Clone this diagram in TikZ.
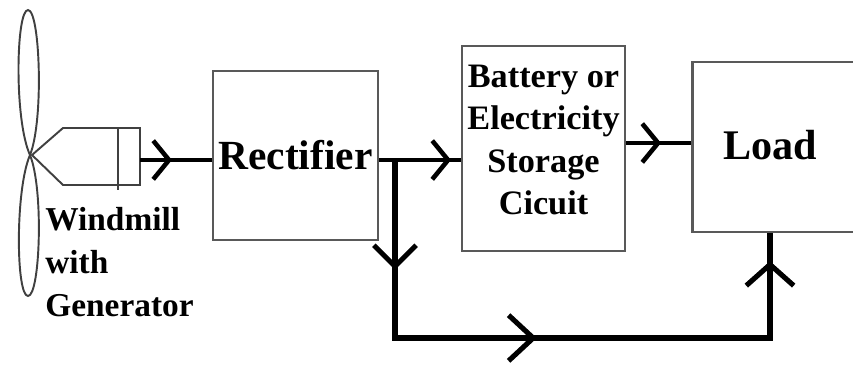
\documentclass[tikz,border=0pt]{standalone}
\usepackage{fontspec}
\setmainfont{Liberation Serif}
\usetikzlibrary{arrows.meta, decorations.markings}

\begin{document}
\begin{tikzpicture}[x=0.02cm, y=-0.02cm, >={Straight Barb[length=9pt, width=22pt]},
    box/.style={draw=black!65, line width=1.2pt, inner sep=0pt},
    wire/.style={line width=2.6pt, line join=miter},
    midarrow/.style={postaction={decorate}, decoration={markings, mark=at position #1 with {\arrow{>}}}}]
                \useasboundingbox (0,0) rectangle (853,366);
                \clip (0,0) rectangle (853,366);
                % Aspas
                \draw[black!75, line width=1.1pt] (30,155) .. controls (14,120) and (16,10) .. (28,10) .. controls (40,10) and (44,120) .. (30,155);
                \draw[black!75, line width=1.1pt] (30,155) .. controls (15,190) and (16,296) .. (28,296) .. controls (40,296) and (44,190) .. (30,155);
                % Generador
                \draw[black!75, line width=1.1pt] (32,155) -- (63,128) -- (140,128) -- (140,185) -- (63,185) -- cycle;
                \draw[black!75, line width=1.1pt] (118,128) -- (118,190);
                \coordinate (gen) at (140,160);
                \node[anchor=north west, inner sep=0pt, align=left, font=\fontsize{19}{24.4}\selectfont\bfseries] (windtxt) at (45,207) {Windmill\\with\\Generator};
                % Bloques
                \node[box, minimum width=3.3cm, minimum height=3.38cm, font=\fontsize{23.6}{28}\selectfont\bfseries] (rect) at (295.5,155.5) {Rectifier};
                \node[box, minimum width=3.26cm, minimum height=4.1cm] (battery) at (543.5,148.5) {};
                \node[align=center, inner sep=0pt, font=\fontsize{19.5}{24}\selectfont\bfseries] (battxt) at (543.5,140) {Battery or\\Electricity\\Storage\\Cicuit};
                \node[box, minimum width=4.3cm, minimum height=3.4cm] (load) at (800,147) {};
                \node[inner sep=0pt, font=\fontsize{24}{28}\selectfont\bfseries] (loadtxt) at (770,145) {Load};
                % Conexiones
                \coordinate (split) at (395,160);
                \draw[wire, midarrow=0.64cm] (gen) -- (gen -| rect.west);
                \draw[wire, midarrow=1.44cm] (rect.east |- split) -- (split) -- (split -| battery.west);
                \draw[wire, midarrow=0.7cm] (battery.east |- 0,143) -- (load.west |- 0,143);
                % Camino directo a la carga
                \draw[wire, line width=2.9pt, postaction={decorate}, decoration={markings,
                    mark=at position 2.2cm with {\arrow{Straight Barb[length=12pt, width=24pt]}},
                    mark=at position 6.4cm with {\arrow{Straight Barb[length=14pt, width=26pt]}},
                    mark=at position 12.6cm with {\arrow{Straight Barb[length=12pt, width=27pt]}}}]
                    (split) -- (395,338) -| (loadtxt |- load.south);
            \end{tikzpicture}
\end{document}
